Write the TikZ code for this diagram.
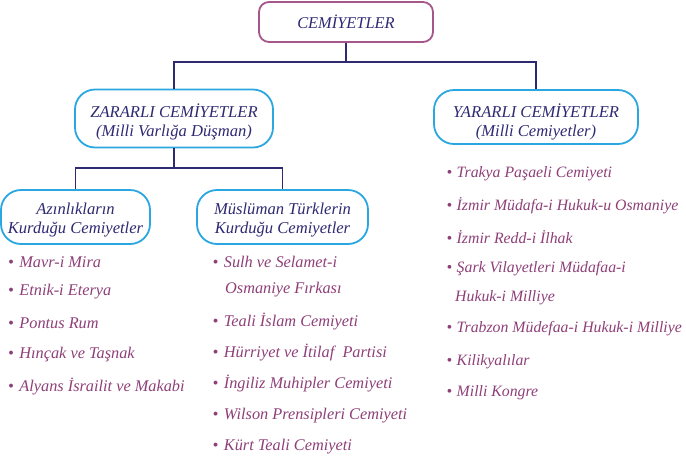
\documentclass[tikz,border=0pt]{standalone}
\usepackage{fontspec}
\setmainfont{Liberation Serif}
\definecolor{navy}{HTML}{2E2A72}
\definecolor{plum}{HTML}{8E3F78}
\definecolor{topborder}{HTML}{A5568A}
\definecolor{cyanb}{HTML}{2AA7E0}
\newcommand{\bul}{•\hspace{5.5pt}}
\newcommand{\bulr}{•\hspace{4.5pt}}
\begin{document}
\begin{tikzpicture}[x=1pt,y=-1pt,
  box/.style={draw=cyanb, line width=1.8pt, rounded corners=20pt, fill=white, inner sep=0pt},
  boxtext/.style={align=center, text=navy, font=\itshape\fontsize{16.6}{18.5}\selectfont, inner sep=0pt},
  topbox/.style={draw=topborder, line width=1.8pt, rounded corners=10pt, fill=white,
    text=navy, font=\itshape\fontsize{16.4}{18}\selectfont, inner sep=0pt,
    minimum width=174pt, minimum height=40pt},
  item/.style={anchor=west, text=plum, font=\itshape\fontsize{16.3}{18}\selectfont, inner sep=0pt},
  itemr/.style={item, font=\itshape\fontsize{15.8}{18}\selectfont},
  conn/.style={draw=navy, line width=1.6pt}]
\useasboundingbox (0,0) rectangle (686,456);

\node[topbox] (top) at (346,22) {CEMİYETLER};
\node[box, minimum width=198pt, minimum height=58pt] (zarar) at (174,118.5) {};
\node[boxtext] (zarart) at ([yshift=-3.5pt]zarar.center) {ZARARLI CEMİYETLER\\(Milli Varlığa Düşman)};
\node[box, minimum width=204pt, minimum height=54pt] (yarar) at (536,117) {};
\node[boxtext] (yarart) at ([yshift=-5pt]yarar.center) {YARARLI CEMİYETLER\\(Milli Cemiyetler)};
\node[box, minimum width=149pt, minimum height=54pt] (azin) at (75.5,217) {};
\node[boxtext] (azint) at ([yshift=-3pt]azin.center) {Azınlıkların\\Kurduğu Cemiyetler};
\node[box, minimum width=171pt, minimum height=54pt] (musl) at (282.5,217) {};
\node[boxtext] (muslt) at ([yshift=-3pt]musl.center) {Müslüman Türklerin\\Kurduğu Cemiyetler};

\coordinate (j1) at (346,62);
\coordinate (j2) at (174,168);
\draw[conn] (top.south) -- (j1) -| (zarar.north);
\draw[conn] (j1) -| (yarar.north);
\draw[conn] (zarar.south) -- (j2) -| (azin.north);
\draw[conn] (j2) -| (musl.north);

% left list
\node[item] (a1) at (8,262) {\bul Mavr-i Mira};
\node[item] (a2) at (8,292) {\bul Etnik-i Eterya};
\node[item] (a3) at (8,323) {\bul Pontus Rum};
\node[item] (a4) at (8,355) {\bul Hınçak ve Taşnak};
\node[item] (a5) at (8,387) {\bul Alyans İsrailit ve Makabi};

% middle list
\node[item] (m1) at (212.5,262) {\bul Sulh ve Selamet-i};
\node[item] (m1b) at (225,290) {Osmaniye Fırkası};
\node[item] (m2) at (212.5,322) {\bul Teali İslam Cemiyeti};
\node[item] (m3) at (212.5,353) {\bul Hürriyet ve İtilaf\ \ Partisi};
\node[item] (m4) at (212.5,384) {\bul İngiliz Muhipler Cemiyeti};
\node[item] (m5) at (212.5,416) {\bul Wilson Prensipleri Cemiyeti};
\node[item] (m6) at (212.5,447) {\bul Kürt Teali Cemiyeti};

% right list
\node[itemr] (r1) at (446.5,174) {\bulr Trakya Paşaeli Cemiyeti};
\node[itemr] (r2) at (446.5,206) {\bulr İzmir Müdafa-i Hukuk-u Osmaniye};
\node[itemr] (r3) at (446.5,237) {\bulr İzmir Redd-i İlhak};
\node[itemr] (r4) at (446.5,269) {\bulr Şark Vilayetleri Müdafaa-i};
\node[itemr] (r4b) at (455,298) {Hukuk-i Milliye};
\node[itemr] (r5) at (446.5,329) {\bulr Trabzon Müdefaa-i Hukuk-i Milliye};
\node[itemr] (r6) at (446.5,362) {\bulr Kilikyalılar};
\node[itemr] (r7) at (446.5,393) {\bulr Milli Kongre};
\end{tikzpicture}
\end{document}
